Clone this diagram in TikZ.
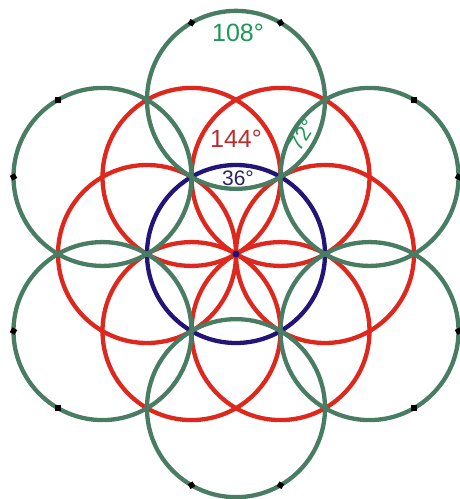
\documentclass[tikz,border=0pt]{standalone}
\usepackage{fontspec}
\setmainfont{Liberation Sans}
\usetikzlibrary{calc}
\definecolor{gline}{RGB}{72,125,100}
\definecolor{rline}{RGB}{222,40,30}
\definecolor{bline}{RGB}{35,20,120}
\definecolor{gtext}{RGB}{30,150,85}
\definecolor{rtext}{RGB}{185,45,45}
\definecolor{btext}{RGB}{40,35,100}
\tikzset{
  redc/.style={draw=rline, line width=4.3pt},
  bluec/.style={draw=bline, line width=4.3pt},
  greenc/.style={draw=gline, line width=4.3pt},
  dotmark/.style={fill=black, inner sep=0pt, minimum size=5.5pt, rectangle},
  lbl/.style={inner sep=0pt, font=\fontsize{25}{25}\selectfont},
}
\begin{document}
\begin{tikzpicture}[x=1pt,y=-1pt]
\useasboundingbox (0,0) rectangle (460,499);
\def\R{89}
\coordinate (C) at (236,254);
% red circles centred on the hexagon points
\foreach \a in {0,60,...,300}
  \draw[redc] (C) ++(\a:\R) coordinate (r\a) circle[radius=\R];
% blue circle
\draw[bluec] (C) circle[radius=\R];
\fill[bline] (C) circle[radius=3.5];
% green circles
\foreach \a in {30,90,...,330}{
  \draw[greenc] (C) ++(\a:{sqrt(3)*\R}) coordinate (g\a) circle[radius=\R];
}
\foreach \a in {30,90,...,330}{
  \node[dotmark, rotate=-\a+30] (da\a) at ($(g\a)+(\a+30:\R)$) {};
  \node[dotmark, rotate=-\a-30] (db\a) at ($(g\a)+(\a-30:\R)$) {};
}
% labels
\node[lbl, text=gtext] (l108) at (238,33) {108°};
\node[lbl, text=rtext] (l144) at (236,139) {144°};
\node[lbl, text=btext, font=\fontsize{21}{21}\selectfont] (l36) at (238,178) {36°};
\node[lbl, text=gtext, rotate=57, font=\fontsize{21}{21}\selectfont] (l72) at (302,135) {72°};
\end{tikzpicture}
\end{document}
